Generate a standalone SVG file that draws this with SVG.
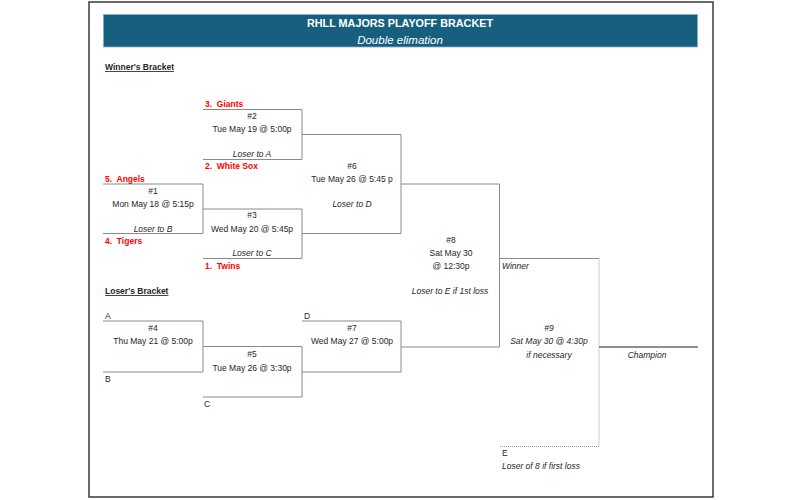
<svg xmlns="http://www.w3.org/2000/svg" width="805" height="500" viewBox="0 0 805 500">
<style>
text{font-family:"Liberation Sans",Arial,sans-serif;font-size:8.5px;fill:#262626}
.c{text-anchor:middle}
.i{font-style:italic}
.t{font-weight:bold;fill:#ff0000;white-space:pre}
.h{font-weight:bold;text-decoration:underline}
.br{fill:none;stroke:#8a8a8a;stroke-width:1}
.dot{fill:none;stroke:#9a9a9a;stroke-width:1;stroke-dasharray:1 1}
</style>
<rect x="0" y="0" width="805" height="500" fill="#ffffff"/>
<rect x="89" y="2" width="624" height="495" fill="#ffffff" stroke="#3a3a3a" stroke-width="1.5"/>
<g id="header">
<rect x="103.5" y="14.5" width="594" height="32.5" fill="#175f7e" stroke="#7fb0cc" stroke-width="0.8"/>
<text x="400" y="27" class="c" style="font-size:10.8px;font-weight:bold;fill:#ffffff">RHLL MAJORS PLAYOFF BRACKET</text>
<text x="400" y="44" class="c i" style="font-size:11.5px;fill:#ffffff">Double elimation</text>
</g>
<text x="105" y="70" class="h">Winner's Bracket</text>
<text x="105" y="294" class="h">Loser's Bracket</text>
<g id="connectors">
<path class="br" d="M203 109.5H302V159.5H203"/>
<path class="br" d="M103 184H203V233.5H103"/>
<path class="br" d="M203 209H302V258.5H203"/>
<path class="br" d="M302 134.5H401V233.5H302"/>
<path class="br" d="M401 184H499.5V347H401"/>
<path class="br" d="M103 321H203V372H103"/>
<path class="br" d="M203 346.5H302V397H203"/>
<path class="br" d="M302 321H401V372H302"/>
<path class="br" d="M499.5 258.5H599"/>
<path class="dot" d="M599 258.5V446.5H500"/>
<path d="M599 347H698" fill="none" stroke="#6a6a6a" stroke-width="1.5"/>
</g>
<g id="game2">
<text x="205" y="107" class="t">3.  Giants</text>
<text x="252" y="119" class="c">#2</text>
<text x="252" y="132" class="c">Tue May 19 @ 5:00p</text>
<text x="252" y="157" class="c i">Loser to A</text>
<text x="205" y="169" class="t">2.  White Sox</text>
</g>
<g id="game1">
<text x="105" y="181.5" class="t">5.  Angels</text>
<text x="153" y="194" class="c">#1</text>
<text x="153" y="206.5" class="c">Mon May 18 @ 5:15p</text>
<text x="153" y="231.5" class="c i">Loser to B</text>
<text x="105" y="244" class="t">4.  Tigers</text>
</g>
<g id="game3">
<text x="252" y="218" class="c">#3</text>
<text x="252" y="231.5" class="c">Wed May 20 @ 5:45p</text>
<text x="252" y="256" class="c i">Loser to C</text>
<text x="205" y="269" class="t">1.  Twins</text>
</g>
<g id="game6">
<text x="352" y="169" class="c">#6</text>
<text x="352" y="181.5" class="c">Tue May 26 @ 5:45 p</text>
<text x="352" y="206.5" class="c i">Loser to D</text>
</g>
<g id="game8">
<text x="451" y="243" class="c">#8</text>
<text x="451" y="256" class="c">Sat May 30</text>
<text x="451" y="269" class="c">@ 12:30p</text>
<text x="450" y="293.5" class="c i">Loser to E if 1st loss</text>
</g>
<g id="game4">
<text x="105" y="319" >A</text>
<text x="153" y="330.5" class="c">#4</text>
<text x="153" y="344" class="c">Thu May 21 @ 5:00p</text>
<text x="105" y="382">B</text>
</g>
<g id="game5">
<text x="252" y="357" class="c">#5</text>
<text x="252" y="370.5" class="c">Tue May 26 @ 3:30p</text>
<text x="204" y="407">C</text>
</g>
<g id="game7">
<text x="304" y="319">D</text>
<text x="352" y="330.5" class="c">#7</text>
<text x="352" y="344" class="c">Wed May 27 @ 5:00p</text>
</g>
<g id="game9">
<text x="502" y="269" class="i">Winner</text>
<text x="549" y="330.5" class="c i">#9</text>
<text x="549" y="344" class="c i">Sat May 30 @ 4:30p</text>
<text x="549" y="357.5" class="c i">if necessary</text>
<text x="502" y="456">E</text>
<text x="502" y="469" class="i">Loser of 8 if first loss</text>
</g>
<g id="champion">
<text x="647" y="357.5" class="c i">Champion</text>
</g>
</svg>
